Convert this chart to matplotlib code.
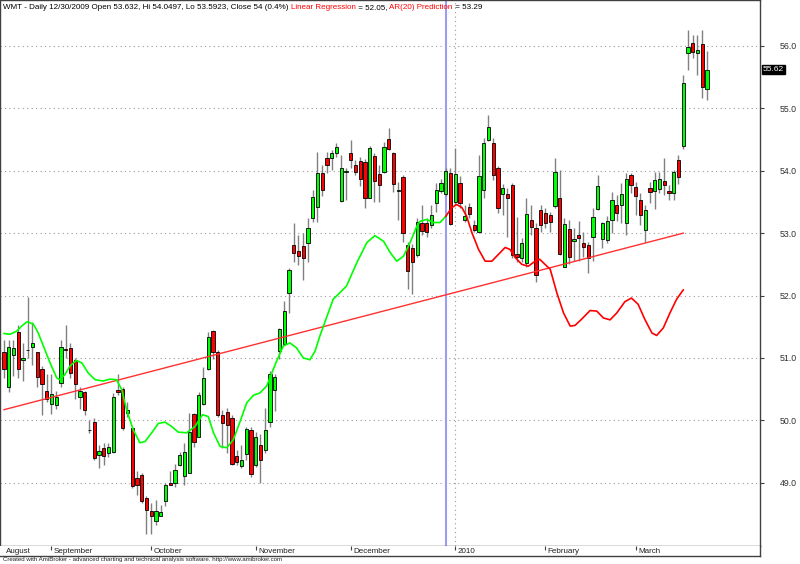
import numpy as np
import matplotlib
matplotlib.use('Agg')
import matplotlib.pyplot as plt

plt.rcParams['font.family'] = ['Liberation Sans', 'DejaVu Sans']

# -----------------------------
# WMT daily bars, 18 Aug 2009 - 22 Mar 2010
# -----------------------------
opens = [51.09, 50.53, 51.04, 51.42, 50.96, 51.13, 51.17, 51.09, 50.82, 50.47,
         50.26, 50.25, 50.59, 51.15, 51.16, 50.97, 50.37, 50.45, 49.84, 49.98,
         49.45, 49.56, 49.47, 49.49, 50.49, 50.50, 50.11, 49.87, 49.07, 49.12,
         48.75, 48.54, 48.38, 48.47, 48.71, 49.00, 49.00, 49.28, 49.10, 49.16,
         50.10, 49.74, 50.26, 50.82, 51.43, 51.09, 50.08, 50.14, 50.03, 49.42,
         49.26, 49.46, 49.85, 49.28, 49.61, 49.52, 49.97, 50.48, 51.11, 51.22,
         52.04, 52.81, 52.71, 52.79, 52.84, 53.24, 53.42, 53.96, 54.21, 54.20,
         54.29, 53.52, 53.98, 54.28, 54.09, 54.15, 54.14, 53.57, 54.24, 53.94,
         53.98, 54.51, 54.29, 53.68, 53.90, 52.81, 52.76, 52.65, 53.16, 53.16,
         53.13, 53.48, 53.67, 53.632, 53.96, 53.50, 53.80, 53.21, 53.42, 53.13,
         53.02, 53.69, 54.49, 54.44, 54.04, 53.62, 53.62, 53.77, 52.66, 52.60,
         52.52, 53.21, 53.08, 53.37, 53.32, 53.29, 53.44, 53.57, 52.46, 53.07,
         52.87, 52.97, 52.84, 52.81, 52.94, 53.39, 52.91, 52.89, 53.21, 53.45,
         53.45, 53.17, 53.93, 53.74, 53.53, 53.05, 53.72, 53.67, 53.71, 53.83,
         53.68, 53.65, 54.17, 54.39, 55.88, 56.04, 55.88, 56.03, 55.31]
highs = [51.29, 51.29, 51.29, 51.53, 51.24, 51.97, 51.58, 51.10, 50.87, 50.74,
         50.74, 50.47, 51.29, 51.53, 51.24, 51.00, 50.53, 50.47, 50.00, 50.03,
         49.60, 49.63, 49.63, 50.43, 50.74, 50.53, 50.29, 49.90, 49.18, 49.15,
         48.78, 48.67, 48.72, 48.64, 48.99, 49.18, 49.30, 49.49, 49.63, 50.11,
         50.11, 50.45, 50.85, 51.41, 51.44, 51.12, 50.16, 50.19, 50.08, 49.52,
         49.60, 49.89, 49.89, 49.81, 49.78, 50.20, 50.79, 50.74, 51.48, 51.91,
         52.44, 53.16, 52.97, 53.00, 53.24, 53.69, 54.30, 54.09, 54.30, 54.33,
         54.44, 54.25, 54.04, 54.49, 54.17, 54.22, 54.19, 54.40, 54.28, 54.09,
         54.46, 54.69, 54.30, 53.82, 53.93, 52.86, 52.82, 53.24, 53.45, 53.24,
         53.45, 53.80, 53.87, 54.0497, 54.04, 54.36, 53.91, 53.45, 53.48, 53.21,
         54.25, 54.52, 54.89, 54.52, 54.07, 53.78, 53.72, 53.80, 53.26, 52.92,
         53.56, 53.45, 53.16, 53.45, 53.40, 53.34, 54.20, 54.01, 53.24, 53.21,
         53.09, 53.20, 53.02, 52.86, 53.40, 53.93, 53.18, 53.28, 53.66, 53.61,
         53.80, 53.96, 53.96, 53.82, 53.64, 53.45, 53.82, 53.98, 53.98, 54.21,
         53.77, 54.01, 54.25, 55.54, 56.25, 56.17, 56.17, 56.25, 55.92]
lows = [50.68, 50.45, 50.71, 50.68, 50.63, 51.00, 50.89, 50.53, 50.08, 50.30,
        50.10, 50.18, 50.53, 51.00, 50.68, 50.34, 50.18, 50.09, 49.80, 49.36,
        49.23, 49.28, 49.41, 49.47, 50.40, 49.84, 50.05, 48.91, 48.80, 48.67,
        48.17, 48.17, 48.32, 48.46, 48.62, 48.96, 48.93, 49.26, 48.96, 49.15,
        49.57, 49.73, 50.24, 50.80, 50.98, 50.05, 49.55, 49.47, 49.28, 49.28,
        49.23, 49.36, 49.09, 49.25, 49.00, 49.47, 49.89, 50.15, 50.98, 51.22,
        51.72, 52.54, 52.49, 52.25, 52.54, 53.18, 53.18, 53.59, 53.96, 54.01,
        54.22, 53.50, 53.53, 54.04, 53.93, 53.75, 53.40, 53.56, 53.50, 53.50,
        53.96, 54.33, 53.66, 53.21, 52.86, 52.10, 52.02, 52.62, 52.97, 52.94,
        53.09, 53.34, 53.64, 53.5923, 53.13, 53.45, 53.40, 53.18, 53.24, 53.02,
        53.00, 53.56, 54.47, 53.85, 53.32, 53.29, 52.94, 52.60, 52.54, 52.54,
        52.46, 52.97, 52.22, 53.02, 53.08, 53.02, 53.40, 52.65, 52.46, 52.51,
        52.56, 52.56, 52.62, 52.36, 52.56, 53.37, 52.76, 52.84, 53.00, 53.19,
        53.16, 52.97, 53.64, 53.29, 53.13, 52.86, 53.48, 53.38, 53.64, 53.61,
        53.53, 53.53, 53.79, 54.35, 55.62, 55.80, 55.54, 55.16, 55.13]
closes = [50.82, 51.18, 51.16, 50.82, 51.00, 51.13, 51.24, 50.69, 50.58, 50.34,
          50.42, 50.37, 51.18, 51.12, 50.76, 50.58, 50.47, 50.17, 49.84, 49.39,
          49.51, 49.43, 49.57, 50.37, 50.45, 49.87, 50.16, 48.95, 48.97, 48.70,
          48.56, 48.47, 48.55, 48.53, 48.96, 48.97, 49.20, 49.44, 49.49, 49.81,
          49.65, 50.41, 50.68, 51.34, 51.10, 50.09, 49.95, 49.92, 49.30, 49.33,
          49.36, 49.86, 49.14, 49.74, 49.36, 49.84, 50.74, 50.70, 51.46, 51.75,
          52.41, 52.68, 52.64, 52.60, 53.09, 53.58, 53.97, 53.69, 54.10, 54.28,
          54.38, 54.05, 53.99, 54.18, 53.98, 53.87, 53.56, 54.36, 53.83, 53.77,
          54.38, 54.35, 53.78, 53.69, 53.01, 52.40, 52.54, 53.18, 53.03, 53.02,
          53.29, 53.69, 53.81, 54.00, 53.14, 53.94, 53.48, 53.28, 53.30, 53.05,
          53.92, 54.44, 54.70, 53.93, 53.40, 53.73, 53.57, 52.65, 52.62, 52.84,
          53.30, 53.10, 52.33, 53.13, 53.16, 53.18, 53.98, 52.66, 53.14, 52.62,
          52.91, 52.93, 52.78, 52.60, 53.26, 53.76, 53.17, 53.19, 53.53, 53.32,
          53.63, 53.86, 53.77, 53.60, 53.29, 53.37, 53.66, 53.85, 53.87, 53.77,
          53.64, 53.98, 53.90, 55.41, 55.98, 55.91, 55.93, 55.34, 55.62]

# month labels and number of bars in each month on the chart
month_labels = ['August', 'September', 'October', 'November', 'December',
                '2010', 'February', 'March']
month_bars = [10, 21, 22, 20, 22, 19, 19, 16]

selected_bar = 93          # 12/30/2009
lr_x = [0, 143]            # linear regression line end points
lr_y = [50.17, 53.00]

# AR(20) fit (green) and prediction (red), traced at bar positions
ar_fit_x = [0, 1.3, 2.7, 3.7, 4.9, 6.2, 7.2, 8.3, 9.7, 11.1, 11.8, 12.8, 13.9,
            15.2, 16.4, 17.7, 19.2, 20.9, 22.3, 23.7, 24.8, 25.8, 27.2, 28.6,
            29.7, 31.1, 32.5, 33.9, 35.3, 36.7, 38.5, 40.2, 41.8, 43.0, 44.1,
            45.5, 46.9, 48.3, 49.7, 51.1, 52.5, 53.9, 55.3, 56.4, 57.4, 58.8,
            60.2, 61.6, 63.0, 64.4, 65.5, 66.5, 69.3, 72.1, 74.3, 76.4, 78.1,
            79.9, 81.3, 82.7, 84.1, 85.5, 86.9, 87.6, 89.0, 90.4, 91.8, 93.0]
ar_fit_y = [51.39, 51.38, 51.43, 51.51, 51.58, 51.54, 51.40, 51.19, 50.92,
            50.68, 50.65, 50.73, 50.87, 50.96, 50.92, 50.76, 50.65, 50.63,
            50.66, 50.65, 50.49, 50.17, 49.85, 49.64, 49.66, 49.80, 49.95,
            49.97, 49.90, 49.81, 49.80, 49.90, 50.09, 50.06, 49.80, 49.58,
            49.56, 49.69, 49.98, 50.28, 50.40, 50.44, 50.55, 50.76, 50.95,
            51.19, 51.24, 51.16, 51.00, 50.97, 51.11, 51.35, 51.94, 52.15,
            52.53, 52.85, 52.96, 52.87, 52.69, 52.55, 52.63, 52.85, 53.11,
            53.19, 53.22, 53.17, 53.17, 53.27]
ar_pred_x = [93.0, 94.3, 95.3, 96.4, 97.4, 98.5, 99.9, 101.3, 102.7, 104.1,
             105.5, 106.5, 107.6, 109.0, 110.4, 111.8, 112.8, 114.3, 115.0,
             116.4, 117.8, 119.2, 120.2, 121.6, 123.4, 124.8, 126.2, 127.6,
             129.0, 130.7, 132.1, 133.5, 134.9, 136.4, 137.4, 138.8, 140.2,
             141.6, 143.0]
ar_pred_y = [53.27, 53.41, 53.46, 53.41, 53.27, 53.01, 52.74, 52.55, 52.55,
             52.66, 52.77, 52.74, 52.61, 52.50, 52.47, 52.55, 52.58, 52.47,
             52.42, 52.04, 51.72, 51.51, 51.52, 51.62, 51.76, 51.75, 51.64,
             51.61, 51.72, 51.90, 51.96, 51.86, 51.62, 51.40, 51.36, 51.48,
             51.72, 51.94, 52.09]

price_ticks = [49, 50, 51, 52, 53, 54, 55, 56]

# -----------------------------
# Figure layout (pixel based, 800x564)
# -----------------------------
W, H = 800, 564
fig = plt.figure(figsize=(W / 100, H / 100), dpi=100)
ax = fig.add_axes([0, 1 - 546 / H, 760 / W, 546 / H])
ax_d = fig.add_axes([0, 1 - 556 / H, 760 / W, 10 / H])

o = np.array(opens)
h = np.array(highs)
l = np.array(lows)
c = np.array(closes)
x = np.arange(len(c))
frame = '#404040'

# grid
ax.set_yticks(price_ticks)
ax.grid(axis='y', color='#9a9a9a', linestyle=(0, (1, 3)), linewidth=0.8, zorder=0)
ax.set_axisbelow(True)

# candles
ax.vlines(x, l, h, color='#808080', linewidth=1, zorder=2)
body_col = np.where(c >= o, '#00ff00', '#ff0000')
ax.bar(x, c - o, bottom=o, width=0.7, color=body_col, edgecolor='black',
       linewidth=0.6, zorder=3)

# indicators
ax.plot(lr_x, lr_y, color='#ff3030', linewidth=1, zorder=4)
ax.plot(ar_fit_x, ar_fit_y, color='#00ff00', linewidth=1.2, zorder=4)
ax.plot(ar_pred_x, ar_pred_y, color='#ff0000', linewidth=1.2, zorder=4)

# selected bar and year separator
starts = np.concatenate([[0], np.cumsum(month_bars)[:-1]])
ax.axvline(selected_bar, color='#9c9cf4', linewidth=1.5, zorder=1)
ax.axvline(starts[month_labels.index('2010')], color='#9a9a9a',
           linestyle=(0, (1, 3)), linewidth=0.8, zorder=1)

ax.set_xlim(-0.84, 159.16)
ax.set_ylim(47.985, 56.737)
ax.set_xticks([])
ax.yaxis.tick_right()
ax.tick_params(axis='y', direction='out', length=3, width=0.8, color=frame,
               labelsize=6.3, labelcolor='#303030', pad=11)
ax.set_yticklabels(['%.1f' % t for t in price_ticks])
for s in ax.spines.values():
    s.set_color(frame)
    s.set_linewidth(1)

# last price marker
ax.annotate('%.2f' % closes[-1], xy=(1.0, closes[-1]),
            xycoords=ax.get_yaxis_transform(), xytext=(2, 0),
            textcoords='offset points', ha='left', va='center',
            fontsize=6, color='white',
            bbox=dict(boxstyle='square,pad=0.15', fc='black', ec='black'))

# header, pieces placed one after another on the same baseline
parts = [('WMT - Daily 12/30/2009 Open 53.632, Hi 54.0497, Lo 53.5923, '
          'Close 54 (0.4%) ', 'black'),
         ('Linear Regression', '#ff0000'),
         (' = 52.05, ', 'black'),
         ('AR(20) Prediction', '#ff0000'),
         (' = 53.29', 'black')]
renderer = fig.canvas.get_renderer()
x_px = 3
base_y = (H - 9) / H
for txt, col in parts:
    t = fig.text(x_px / W, base_y, txt, ha='left', va='baseline',
                 fontsize=5.8, color=col)
    x_px += t.get_window_extent(renderer).width

# date strip
ax_d.set_xlim(-0.84, 159.16)
ax_d.set_ylim(0, 1)
ax_d.set_xticks([])
ax_d.set_yticks([])
for side, s in ax_d.spines.items():
    s.set_color(frame)
    s.set_linewidth(1)
    if side in ('top', 'left'):
        s.set_visible(False)
for i, (lab, st) in enumerate(zip(month_labels, starts)):
    if i > 0:
        ax_d.vlines(st, 0.6, 1.0, color=frame, linewidth=0.8)
    ax_d.text(st + 0.45, 0.45, lab, ha='left', va='center', fontsize=5.8,
              color='#202020')

fig.text(0.004, 1 - 560 / H,
         'Created with AmiBroker - advanced charting and technical analysis '
         'software. http://www.amibroker.com',
         ha='left', va='center', fontsize=4.4, color='#202020')

fig.savefig('out.png', dpi=100)
